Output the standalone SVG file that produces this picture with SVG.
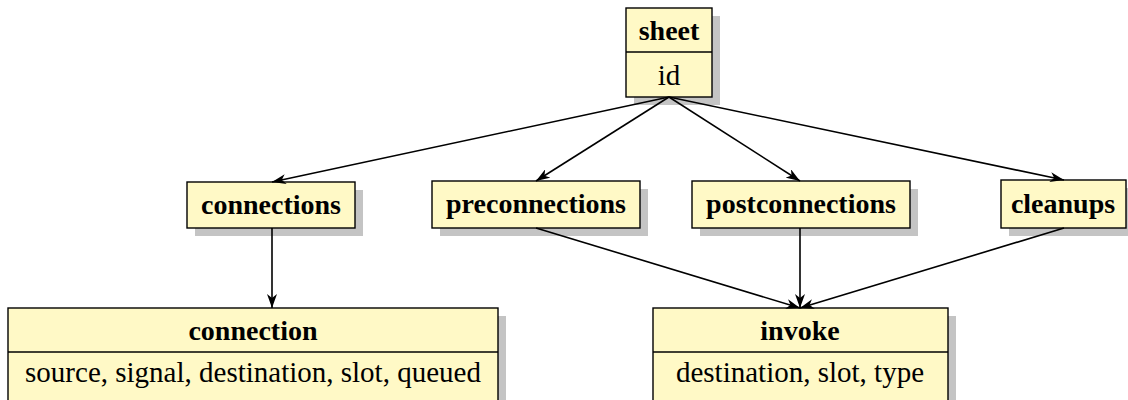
<svg xmlns="http://www.w3.org/2000/svg" width="1128" height="400" viewBox="0 0 1128 400">
  <style>
    .box { fill: #fff9c6; stroke: #000; stroke-width: 1.4; }
    .shadow { fill: #c4c4c4; }
    .div { stroke: #000; stroke-width: 1.4; }
    text { font-family: "Liberation Serif", "Times New Roman", "DejaVu Serif", serif; fill: #000; text-anchor: middle; }
    .title { font-weight: bold; font-size: 28px; }
    .attr { font-size: 29px; }
    .edge { stroke: #000; stroke-width: 1.6; fill: none; marker-end: url(#arr); }
  </style>
  <defs>
    <marker id="arr" viewBox="0 0 14 10" refX="14" refY="5" markerWidth="14" markerHeight="10" markerUnits="userSpaceOnUse" orient="auto">
      <path d="M0,0 L14,5 L0,10 L4,5 Z" fill="#000"/>
    </marker>
  </defs>
  <rect width="1128" height="400" fill="#fff"/>

  <g id="sheet">
    <rect class="shadow" x="634" y="16" width="86" height="89"/>
    <rect class="box" x="626" y="8" width="86" height="89"/>
    <line class="div" x1="626" y1="52" x2="712" y2="52"/>
    <text class="title" x="669" y="40">sheet</text>
    <text class="attr" x="669" y="85">id</text>
  </g>

  <g id="connections">
    <rect class="shadow" x="195" y="190" width="168" height="46"/>
    <rect class="box" x="187" y="182" width="168" height="46"/>
    <text class="title" x="271" y="214">connections</text>
  </g>

  <g id="preconnections">
    <rect class="shadow" x="440" y="189" width="208" height="47"/>
    <rect class="box" x="432" y="181" width="208" height="47"/>
    <text class="title" x="536" y="213">preconnections</text>
  </g>

  <g id="postconnections">
    <rect class="shadow" x="700" y="189" width="218" height="47"/>
    <rect class="box" x="692" y="181" width="218" height="47"/>
    <text class="title" x="801" y="213">postconnections</text>
  </g>

  <g id="cleanups">
    <rect class="shadow" x="1009" y="188" width="126" height="48"/>
    <rect class="box" x="1001" y="180" width="125" height="48"/>
    <text class="title" x="1063" y="213">cleanups</text>
  </g>

  <g id="connection">
    <rect class="shadow" x="16" y="316" width="490" height="100"/>
    <rect class="box" x="8" y="308" width="490" height="100"/>
    <line class="div" x1="8" y1="352" x2="498" y2="352"/>
    <text class="title" x="253" y="340">connection</text>
    <text class="attr" x="253" y="382">source, signal, destination, slot, queued</text>
  </g>

  <g id="invoke">
    <rect class="shadow" x="661" y="316" width="295" height="100"/>
    <rect class="box" x="653" y="308" width="295" height="100"/>
    <line class="div" x1="653" y1="352" x2="948" y2="352"/>
    <text class="title" x="800" y="340">invoke</text>
    <text class="attr" x="800" y="382">destination, slot, type</text>
  </g>

  <!-- connectors are drawn last so they run over the drop shadows -->
  <g id="connectors">
    <line class="edge" x1="669" y1="97" x2="272" y2="182"/>
    <line class="edge" x1="669" y1="97" x2="536" y2="181"/>
    <line class="edge" x1="669" y1="97" x2="800" y2="181"/>
    <line class="edge" x1="669" y1="97" x2="1064" y2="180"/>
    <line class="edge" x1="272" y1="228" x2="272" y2="308"/>
    <line class="edge" x1="536" y1="228" x2="800" y2="308"/>
    <line class="edge" x1="800" y1="228" x2="800" y2="308"/>
    <line class="edge" x1="1064" y1="228" x2="800" y2="308"/>
  </g>
</svg>
